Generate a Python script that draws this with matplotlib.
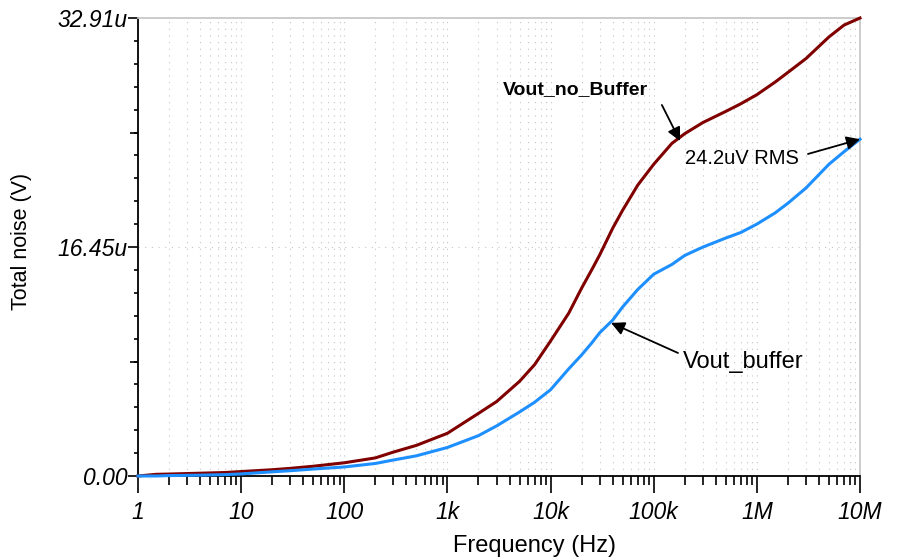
import matplotlib
matplotlib.use("Agg")
import matplotlib.pyplot as plt
import numpy as np
from matplotlib.ticker import FixedLocator, NullFormatter, FixedFormatter

plt.rcParams['font.family'] = ['Liberation Sans', 'DejaVu Sans']

# ---------------- data ----------------
freq_hz = [1, 1.5, 2, 4, 7, 10, 20, 30, 50, 100, 200, 300, 500,
           1e3, 2e3, 3e3, 5e3, 7e3, 1e4, 1.5e4, 2e4, 2.5e4, 3e4, 4e4, 5e4, 7e4,
           1e5, 1.5e5, 2e5, 3e5, 5e5, 7e5, 1e6, 1.5e6, 2e6, 3e6, 5e6, 7e6, 1e7]
# total noise in microvolts
vout_no_buffer = [0, 0.12, 0.14, 0.2, 0.25, 0.32, 0.45, 0.55, 0.7, 0.95, 1.3, 1.72, 2.2,
                  3.07, 4.5, 5.35, 6.8, 8.0, 9.7, 11.7, 13.5, 14.8, 15.9, 17.8, 19.1, 20.9,
                  22.4, 23.9, 24.6, 25.4, 26.2, 26.75, 27.4, 28.3, 29.0, 30.0, 31.55, 32.4, 32.91]
vout_buffer = [0, 0.0, 0.03, 0.06, 0.1, 0.15, 0.3, 0.38, 0.5, 0.65, 0.9, 1.15, 1.45,
               2.05, 2.9, 3.6, 4.6, 5.3, 6.2, 7.7, 8.7, 9.55, 10.3, 11.2, 12.15, 13.4,
               14.5, 15.2, 15.85, 16.45, 17.1, 17.5, 18.1, 18.9, 19.6, 20.7, 22.4, 23.3, 24.2]

x_ticks = [1, 10, 100, 1e3, 1e4, 1e5, 1e6, 1e7]
x_tick_labels = ['1', '10', '100', '1k', '10k', '100k', '1M', '10M']
y_max = 32.91
y_ticks = [0, 16.455, 32.91]
y_tick_labels = ['0.00', '16.45u', '32.91u']

# ---------------- figure ----------------
fig = plt.figure(figsize=(9.05, 5.59), dpi=100)
ax = fig.add_axes([138/905, 1-476/559, (860-138)/905, (476-18)/559])

ax.set_xscale('log')
ax.set_xlim(1, 1e7)
ax.set_ylim(0, y_max)

# grid
minor_x = [m * 10**d for d in range(0, 7) for m in range(2, 10)] + [10**d for d in range(1, 7)]
for xv in minor_x:
    ax.axvline(xv, color='#c4c4c4', lw=0.8, ls=(0, (1, 5)), zorder=0)
ax.axhline(y_max/2, color='#c4c4c4', lw=0.8, ls=(0, (1, 5)), zorder=0)

ax.plot(freq_hz, vout_no_buffer, color='#800000', lw=2.2, zorder=3, clip_on=False)
ax.plot(freq_hz, vout_buffer, color='#1e8fff', lw=2.2, zorder=3, clip_on=False)

# spines
for s in ['left', 'bottom']:
    ax.spines[s].set_color('black')
    ax.spines[s].set_linewidth(1.3)
for s in ['top', 'right']:
    ax.spines[s].set_color('#c8c8c8')
    ax.spines[s].set_linewidth(1.3)

# x ticks
ax.xaxis.set_major_locator(FixedLocator(x_ticks))
ax.xaxis.set_major_formatter(FixedFormatter(x_tick_labels))
ax.xaxis.set_minor_locator(FixedLocator([m * 10**d for d in range(0, 7) for m in range(2, 10)]))
ax.xaxis.set_minor_formatter(NullFormatter())
ax.tick_params(axis='x', which='major', direction='out', length=12, width=1.2, pad=6,
               labelsize=16.5, colors='black')
ax.tick_params(axis='x', which='minor', direction='out', length=6.5, width=1.2)
for lab in ax.get_xticklabels():
    lab.set_fontstyle('italic')

# y ticks
ax.yaxis.set_major_locator(FixedLocator(y_ticks))
ax.yaxis.set_major_formatter(FixedFormatter(y_tick_labels))
ax.yaxis.set_minor_locator(FixedLocator([y_max * i / 20 for i in range(21)]))
ax.yaxis.set_minor_formatter(NullFormatter())
ax.tick_params(axis='y', which='major', direction='out', length=7.5, width=1.2, pad=0,
               labelsize=16.5)
ax.tick_params(axis='y', which='minor', direction='out', length=3, width=1.2)
for lab in ax.get_yticklabels():
    lab.set_fontstyle('italic')

sec = ax.secondary_yaxis('left')
sec.set_yticks([y_max/4, 3*y_max/4])
sec.set_yticklabels(['', ''])
sec.tick_params(axis='y', direction='out', length=6, width=1.2)
sec.spines['left'].set_visible(False)

# labels
fig.text(534/905, 1-546/559, 'Frequency (Hz)', ha='center', va='center', fontsize=17)
fig.text(22/905, 1-241/559, 'Total noise (V)', ha='center', va='center', fontsize=15.5,
         rotation=90)

# annotations
arrow = dict(arrowstyle='-|>', color='black', lw=1.3, mutation_scale=20,
             shrinkA=0, shrinkB=0)
ax.text(3459, 27.43, 'Vout_no_Buffer', fontsize=14, fontweight='bold', ha='left',
        va='baseline')
ax.annotate('', xy=(1.8e5, 24.07), xytext=(1.2e5, 26.66), arrowprops=arrow)

ax.text(2.01e5, 22.42, '24.2uV RMS', fontsize=14.5, ha='left', va='baseline')
ax.annotate('', xy=(1e7, 24.2), xytext=(3.13e6, 23.14), arrowprops=arrow)

ax.text(1.92e5, 7.76, 'Vout_buffer', fontsize=17, ha='left', va='baseline')
ax.annotate('', xy=(3.86e4, 11.0), xytext=(1.72e5, 8.84), arrowprops=arrow)

fig.savefig('out.png', dpi=100)
